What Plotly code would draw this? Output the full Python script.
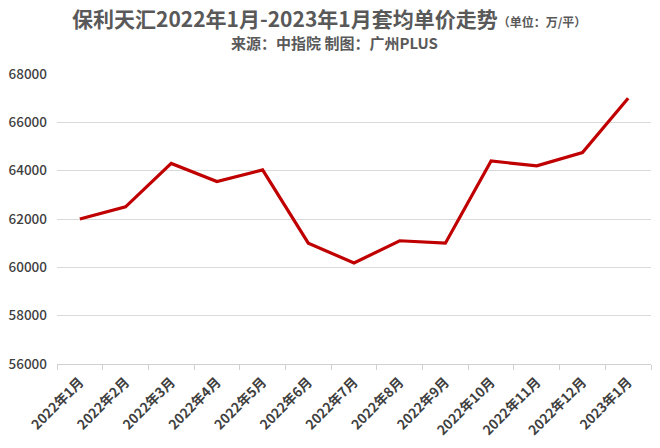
import plotly.graph_objects as go

months = ["2022年1月", "2022年2月", "2022年3月", "2022年4月", "2022年5月", "2022年6月",
          "2022年7月", "2022年8月", "2022年9月", "2022年10月", "2022年11月", "2022年12月",
          "2023年1月"]
prices = [62000, 62500, 64300, 63550, 64030, 61000, 60180, 61100, 61000, 64400, 64200, 64750, 67000]
y_ticks = [56000, 58000, 60000, 62000, 64000, 66000, 68000]
y_labels = [str(v) for v in y_ticks]

title_main = "保利天汇2022年1月-2023年1月套均单价走势"
title_unit = "（单位：万/平）"
subtitle = "来源：中指院 制图：广州PLUS"

FONT = "Noto Sans CJK SC"

fig = go.Figure()
fig.add_trace(go.Scatter(
    x=months, y=prices, mode="lines",
    line=dict(color="#C00000", width=3.2),
    hoverinfo="x+y",
))

L, R, T, B = 57, 9, 74, 84
W, H = 660, 448

fig.update_layout(
    width=W, height=H,
    margin=dict(l=L, r=R, t=T, b=B, autoexpand=False),
    paper_bgcolor="white", plot_bgcolor="white",
    showlegend=False,
    font=dict(family=FONT, color="#404040"),
    xaxis=dict(
        type="category",
        tickangle=-45,
        tickfont=dict(size=13.5, color="#404040", family=FONT, weight=600),
        showgrid=False,
        showline=True, linecolor="#d0d0d0", linewidth=1,
        ticks="outside", tickson="boundaries", ticklen=5, tickcolor="#d0d0d0",
        ticklabelstandoff=4,
        range=[-0.5, 12.5],
        automargin=False,
    ),
    yaxis=dict(
        range=[56000, 68000],
        tickvals=y_ticks, ticktext=y_labels,
        tickfont=dict(size=13.5, color="#404040", family=FONT, weight=500),
        showgrid=True, gridcolor="#d9d9d9", gridwidth=1,
        zeroline=False, showline=False,
        ticks="", ticklabelstandoff=9,
        automargin=False,
    ),
)

plot_w = W - L - R
plot_h = H - T - B

def px(x):
    return (x - L) / plot_w

def py(y):
    return (H - y - B) / plot_h

fig.add_annotation(
    text=f"<b>{title_main}</b><span style='font-size:12px'><b>{title_unit}</b></span>",
    x=px(329), y=py(18), xref="paper", yref="paper", showarrow=False,
    font=dict(size=21, color="#595959", family=FONT),
    xanchor="center", yanchor="middle",
)
fig.add_annotation(
    text=f"<b>{subtitle}</b>",
    x=px(334), y=py(42), xref="paper", yref="paper", showarrow=False,
    font=dict(size=15, color="#595959", family=FONT),
    xanchor="center", yanchor="middle",
)

fig.write_html(
    "out.html",
    config={"displayModeBar": False},
    post_script="document.body.style.margin='0';document.body.style.overflow='hidden';",
)
